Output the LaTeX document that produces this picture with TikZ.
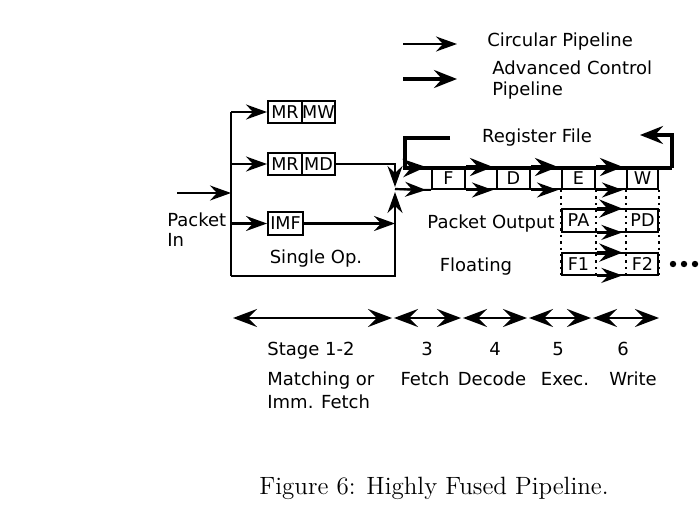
\documentclass[tikz,border=0pt]{standalone}
\usepackage{fontspec}
\newfontfamily\dv{DejaVu Sans}
\usetikzlibrary{arrows.meta}
\begin{document}
\begin{tikzpicture}[x=0.5pt,y=-0.5pt,
  lbl/.style={font=\dv\fontsize{9}{10.5}\selectfont, inner sep=0pt, text height=6.8pt, text depth=1.8pt},
  cell/.style={draw, line width=1pt, inner sep=0pt, font=\dv\fontsize{8.8}{10}\selectfont},
  cellnb/.style={inner sep=0pt, font=\dv\fontsize{8.8}{10}\selectfont},
  plain/.style={line width=1pt},
  thinar/.style={line width=1.1pt, -{Stealth[length=10.5pt,width=7.5pt,inset=3.5pt]}},
  advar/.style={line width=2pt, -{Stealth[length=11.5pt,width=9pt,inset=4pt]}},
  advline/.style={line width=2pt},
  tl/.style={line width=1.3pt, {Stealth[length=12pt,width=9pt,inset=4.5pt]}-{Stealth[length=12pt,width=9pt,inset=4.5pt]}, shorten <=0.5pt, shorten >=0.5pt},
  dots/.style={line width=1pt, dash pattern=on 1.2pt off 2pt},
]
\useasboundingbox (0,0) rectangle (700,519);
\fill[white] (0,0) rectangle (700,519);

% ---- legend
\coordinate (l1a) at (403,44); \coordinate (l1b) at (457,44);
\draw[thinar] (l1a) -- (l1b);
\node[lbl, anchor=west] (lg1) at (487,42) {Circular Pipeline};
\coordinate (l2a) at (403,79); \coordinate (l2b) at (457,79);
\draw[advar] (l2a) -- (l2b);
\node[lbl, anchor=west] (lg2) at (492,70) {Advanced Control};
\node[lbl, anchor=west] (lg3) at (492,91) {Pipeline};

% ---- stage 1-2 boxes
\node[cell, minimum width=17pt, minimum height=11pt] (mr1) at (285,112) {MR};
\node[cell, minimum width=16.5pt, minimum height=11pt] (mw) at (318.5,112) {MW};
\node[cell, minimum width=17pt, minimum height=11pt] (mr2) at (285,164) {MR};
\node[cell, minimum width=16.5pt, minimum height=11pt] (md) at (318.5,164) {MD};
\node[cell, minimum width=17.5pt, minimum height=11.5pt] (imf) at (285.5,223.5) {IMF};

\coordinate (tT) at (231,112);
\coordinate (tB) at (231,276);
\coordinate (inS) at (177,193);
\coordinate (jn) at (395,189);

\draw[plain] (tT) -- (tB);
\draw[thinar] (inS) -- (inS -| tT);
\draw[thinar] (tT) -- (mr1.west);
\draw[thinar] (mr2.west -| tT) -- (mr2.west);
\draw[thinar] (imf.west -| tT) -- (imf.west);

\draw[thinar] (md.east) -| ([yshift=1pt]jn);
\draw[thinar] (imf.east) -- (imf.east -| jn);
\draw[thinar] (tB) -| ([yshift=-1.5pt]jn);

\node[lbl, anchor=west] (pin1) at (167,221) {Packet};
\node[lbl, anchor=west] (pin2) at (167,241) {In};
\node[lbl] (so) at (316,258) {Single Op.};

% ---- pipeline row 1
\node[cell, minimum width=16.5pt, minimum height=10.5pt] (F) at (448.5,178.5) {F};
\node[cell, minimum width=16pt, minimum height=10.5pt] (g1) at (481,178.5) {};
\node[cell, minimum width=16.5pt, minimum height=10.5pt] (D) at (513.5,178.5) {D};
\node[cell, minimum width=16pt, minimum height=10.5pt] (g2) at (546,178.5) {};
\node[cell, minimum width=16.5pt, minimum height=10.5pt] (E) at (578.5,178.5) {E};
\node[cell, minimum width=16pt, minimum height=10.5pt] (g3) at (611,178.5) {};
\node[cell, minimum width=15.5pt, minimum height=10.5pt] (W) at (642.5,178.5) {W};

% ---- row PA
\node[cellnb, minimum width=16.5pt, minimum height=11.5pt] (PA) at (578.5,220.5) {PA};
\node[cellnb, minimum width=16pt, minimum height=11.5pt] (g4) at (611,220.5) {};
\node[cellnb, minimum width=15.5pt, minimum height=11.5pt] (PD) at (642.5,220.5) {PD};
% ---- row F1
\node[cellnb, minimum width=16.5pt, minimum height=11pt] (F1) at (578.5,264) {F1};
\node[cellnb, minimum width=16pt, minimum height=11pt] (g5) at (611,264) {};
\node[cellnb, minimum width=15.5pt, minimum height=11pt] (F2) at (642.5,264) {F2};

\foreach \n/\a in {E/south west, E/south east, W/south west, W/south east}
  \draw[dots] (\n.\a) -- (\n.\a |- F1.south);
\draw[plain] (PA.north west) rectangle (PD.south east);
\draw[plain] (F1.north west) rectangle (F2.south east);

% register file loop and lines
\coordinate (rfS) at (450,138);
\coordinate (rfL) at (405,168);
\coordinate (rfR) at (672,168);
\coordinate (rfE) at (640,135);
\draw[advline] (rfS) -| (rfL) -- (rfR);
\draw[advar] (rfR) |- (rfE);
\node[lbl] (rf) at (537,137) {Register File};

\draw[plain] (jn) -- (F.south west);
\draw[advar] (rfL) -- ([xshift=-2.5pt]F.north west);
\draw[thinar] (jn) -- ([xshift=-2.5pt]F.south west);
\foreach \g in {g1,g2,g3,g4,g5}{
  \draw[advar] ([xshift=1pt]\g.north west) -- ([xshift=-2.5pt]\g.north east);
  \draw[thinar] ([xshift=1pt]\g.south west) -- ([xshift=-2.5pt]\g.south east);
}

\node[lbl] (po) at (491,223) {Packet Output};
\node[lbl] (fl) at (476,266) {Floating};

\fill (673,264) circle (1.6pt) (684,264) circle (1.6pt) (695,264) circle (1.6pt);

% ---- timeline
\coordinate (s0) at (232,318);
\coordinate (s1) at (393,318);
\coordinate (s2) at (462,318);
\coordinate (s3) at (528,318);
\coordinate (s4) at (592,318);
\coordinate (s5) at (660,318);
\draw[tl] (s0) -- (s1);
\draw[tl] (s1) -- (s2);
\draw[tl] (s2) -- (s3);
\draw[tl] (s3) -- (s4);
\draw[tl] (s4) -- (s5);

\node[lbl, anchor=west] (st) at (267,350) {Stage 1-2};
\node[lbl] (n3) at (427,350) {3};
\node[lbl] (n4) at (495,350) {4};
\node[lbl] (n5) at (558,350) {5};
\node[lbl] (n6) at (623,350) {6};
\node[lbl, anchor=west] (m1) at (267,380) {Matching or};
\node[lbl, anchor=west] (m2) at (267,403) {Imm. Fetch};
\node[lbl] (w3) at (425,380) {Fetch};
\node[lbl] (w4) at (492,380) {Decode};
\node[lbl] (w5) at (565,380) {Exec.};
\node[lbl] (w6) at (633,380) {Write};

% ---- caption
\node[font=\fontsize{12.5}{15}\selectfont, inner sep=0pt] (cap) at (434,488) {Figure 6: Highly Fused Pipeline.};
\end{tikzpicture}
\end{document}
